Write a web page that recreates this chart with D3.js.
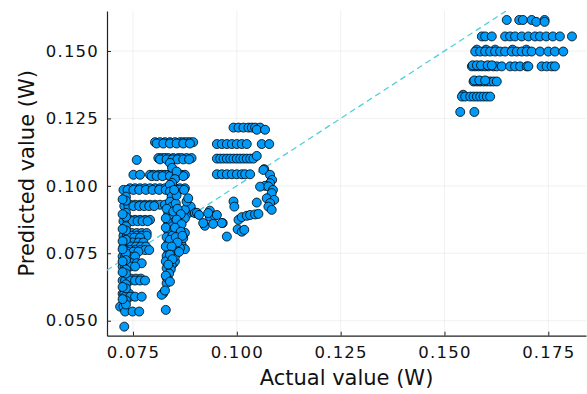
<!DOCTYPE html>
<html lang="en">
  <head>
    <meta charset="UTF-8" />
    <title>Predicted vs actual</title>
    <style>
      * {
        box-sizing: border-box;
        margin: 0;
        padding: 0;
      }
      body {
        background: #fff;
      }
      svg {
        display: block;
        font-family: "DejaVu Sans", sans-serif;
      }
    </style>
  </head>
  <body>
    <svg id="chart"></svg>

    <script src="https://d3js.org/d3.v7.min.js"></script>
    <script>
      // axis ticks and limits
      const xTicks = [0.075, 0.1, 0.125, 0.15, 0.175];
      const yTicks = [0.05, 0.075, 0.1, 0.125, 0.15];
      const xLimits = [0.06874, 0.18408];
      const yLimits = [0.04444, 0.16483];
      // the y = x reference line, start and end
      const idealLine = [0.0687, 0.1648];

      // rows of points: [predicted, [actual, ...]]
      const leftRows = [
        [0.1162, [0.0803, 0.0815, 0.0827, 0.0839, 0.0851, 0.0863, 0.0871, 0.0879, 0.0887, 0.0895]],
        [0.1157, [0.0807, 0.0823, 0.0839, 0.0855, 0.0871, 0.0887]],
        [0.1103, [0.0811, 0.0819, 0.0827, 0.0835, 0.0847, 0.0859, 0.0867, 0.0879, 0.0891]],
        [0.1098, [0.0815, 0.0831, 0.0845, 0.0857, 0.0871, 0.0885]],
        [0.1096, [0.0759]],
        [0.1041, [0.0751, 0.0767, 0.0791, 0.0799, 0.0811, 0.0819, 0.0827, 0.0835, 0.0843, 0.0851, 0.0859, 0.0867, 0.0875]],
        [0.1036, [0.0795, 0.0807, 0.0821, 0.0839, 0.0855, 0.0871]],
        [0.0991, [0.0743, 0.0755, 0.0767, 0.0779, 0.0791, 0.0803, 0.0815, 0.0827, 0.0839, 0.0851, 0.0863, 0.0875]],
        [0.0985, [0.0727, 0.0737, 0.0751, 0.0765, 0.0781, 0.0797, 0.0813, 0.0829, 0.0845, 0.0861, 0.0873]],
        [0.093, [0.0743, 0.0755, 0.0767, 0.0779, 0.0791, 0.0803, 0.0815, 0.0827]],
        [0.0925, [0.0729, 0.0739, 0.0751, 0.0765, 0.0777, 0.0789, 0.0801]],
        [0.0874, [0.0743, 0.0755, 0.0767, 0.0779, 0.0791]],
        [0.0869, [0.0727, 0.0737, 0.0749, 0.0761, 0.0773, 0.0785]],
        [0.0825, [0.0735, 0.0747, 0.0759, 0.0771, 0.0783]],
        [0.0815, [0.0727, 0.0735, 0.0747, 0.0759, 0.0771, 0.0783]],
        [0.0808, [0.0739, 0.0753, 0.0767]],
        [0.079, [0.0735, 0.0749, 0.0763, 0.0775]],
        [0.0775, [0.0727, 0.0733, 0.0745, 0.0757, 0.0769, 0.0781]],
        [0.0762, [0.0733, 0.0743, 0.0755, 0.0767, 0.0779, 0.0789]],
        [0.0756, [0.0737, 0.0751, 0.0763]],
        [0.0738, [0.0725, 0.0731, 0.0743, 0.0755]],
        [0.0713, [0.0735, 0.0747, 0.0759, 0.0771]],
        [0.0701, [0.0725, 0.0731, 0.0743, 0.0755]],
        [0.0656, [0.0733, 0.0745, 0.0757, 0.0769]],
        [0.0649, [0.0725, 0.0731, 0.0743, 0.0755, 0.0767, 0.0779]],
        [0.06, [0.0725, 0.0729, 0.0741]],
        [0.0589, [0.0731, 0.0743, 0.0755, 0.0771]],
        [0.0552, [0.0719, 0.0727]],
        [0.0534, [0.0731, 0.0749, 0.0765]],
        [0.0478, [0.0729]],
      ];

      // left edge columns: [actual, [predicted, ...]]
      const leftColumns = [
        [0.0733, [0.096, 0.0945, 0.09, 0.0885, 0.085, 0.0835, 0.08, 0.075, 0.0725, 0.069, 0.0675, 0.0635, 0.062, 0.0575, 0.056]],
        [0.0725, [0.095, 0.0895, 0.084, 0.0795, 0.0765, 0.072, 0.068, 0.0625, 0.058]],
      ];

      // second column and loose points of the left group: [actual, predicted]
      const leftScatter = [
        [0.0839, 0.1085], [0.0844, 0.1067], [0.0855, 0.1053], [0.0851, 0.1025], [0.0844, 0.1011],
        [0.0839, 0.1004], [0.0839, 0.0979], [0.0843, 0.096], [0.0839, 0.0941], [0.0843, 0.0922],
        [0.0835, 0.0899], [0.0843, 0.088], [0.0851, 0.0868], [0.0859, 0.0886], [0.0835, 0.0862],
        [0.0859, 0.0855], [0.0871, 0.0875], [0.0875, 0.0892], [0.0885, 0.09], [0.0895, 0.0904],
        [0.0889, 0.0923], [0.0835, 0.0833], [0.0859, 0.0826], [0.0875, 0.0826], [0.0835, 0.0787],
        [0.0863, 0.08], [0.0867, 0.0782], [0.0853, 0.077], [0.0875, 0.0765], [0.0835, 0.075],
        [0.0847, 0.0713], [0.0851, 0.072], [0.0831, 0.0695], [0.0835, 0.0651], [0.0831, 0.0639],
        [0.0823, 0.0602], [0.0819, 0.0596], [0.0829, 0.054], [0.0831, 0.0915], [0.0847, 0.0905],
        [0.0829, 0.088], [0.0845, 0.085], [0.0829, 0.0845], [0.0849, 0.084], [0.0831, 0.081],
        [0.0845, 0.0815], [0.0839, 0.08], [0.0829, 0.0775], [0.0847, 0.076], [0.0831, 0.074],
        [0.0839, 0.073], [0.0829, 0.072], [0.0843, 0.0705], [0.0841, 0.069], [0.0837, 0.0675],
        [0.0831, 0.066], [0.0875, 0.0911], [0.0899, 0.0899], [0.0863, 0.0843], [0.0871, 0.0806],
        [0.0863, 0.0769], [0.0851, 0.0738], [0.0875, 0.088], [0.0879, 0.0942], [0.0883, 0.0954],
        [0.0853, 0.0935], [0.0857, 0.0915], [0.0865, 0.0895], [0.0855, 0.0875], [0.0867, 0.0858],
        [0.0851, 0.0845], [0.0865, 0.083], [0.0853, 0.081], [0.0869, 0.0815], [0.0857, 0.079],
        [0.0843, 0.0775], [0.0861, 0.0755], [0.0839, 0.0745], [0.0845, 0.0728], [0.0835, 0.0708],
        [0.0829, 0.0667], [0.0839, 0.0645], [0.0827, 0.0612], [0.0855, 0.0965], [0.0849, 0.0985],
      ];

      const midRows = [
        [0.1216, [0.0992, 0.1004, 0.1016, 0.1028, 0.1036, 0.1044, 0.1056]],
        [0.1208, [0.1048, 0.1068]],
        [0.1155, [0.0952, 0.0964, 0.0976, 0.0988, 0.1, 0.1012, 0.1024, 0.106, 0.1078]],
        [0.1101, [0.0952, 0.096, 0.0968, 0.0976, 0.0984, 0.0992, 0.1, 0.1008, 0.1016, 0.1024, 0.1032, 0.104]],
        [0.1111, [0.1048]],
        [0.1043, [0.0952, 0.0964, 0.0976, 0.0988, 0.1, 0.1012, 0.102, 0.1032]],
      ];

      const midScatter = [
        [0.1066, 0.1062], [0.1064, 0.1059], [0.108, 0.1041], [0.1085, 0.1022], [0.108, 0.101],
        [0.1068, 0.1], [0.1056, 0.0997], [0.1076, 0.0998], [0.1087, 0.0985], [0.1084, 0.0973],
        [0.1072, 0.0954], [0.109, 0.0948], [0.108, 0.0936], [0.1076, 0.0923], [0.1084, 0.0911],
        [0.0935, 0.0908], [0.0935, 0.0886], [0.0947, 0.0889], [0.0923, 0.0852], [0.0943, 0.0859],
        [0.0966, 0.0862], [0.0976, 0.0812], [0.0992, 0.0942], [0.0994, 0.0923], [0.1004, 0.0874],
        [0.1012, 0.0884], [0.1024, 0.0889], [0.1032, 0.0892], [0.1044, 0.0894], [0.1052, 0.0896],
        [0.1048, 0.0938], [0.1002, 0.0839], [0.1012, 0.083], [0.1018, 0.0837], [0.0904, 0.09],
        [0.0909, 0.0892], [0.0919, 0.0862], [0.0931, 0.0899], [0.0952, 0.0892], [0.0964, 0.0862],
      ];

      const rightRows = [
        [0.1615, [0.165, 0.168, 0.1689, 0.171, 0.1741]],
        [0.1608, [0.1721, 0.1741]],
        [0.1554, [0.159, 0.1598, 0.1614, 0.1646, 0.1658, 0.167, 0.1686, 0.1702, 0.1718, 0.173, 0.1745, 0.1761, 0.1778, 0.1807]],
        [0.1505, [0.1578, 0.16, 0.1622, 0.1664, 0.1697]],
        [0.1498, [0.1574, 0.1586, 0.1598, 0.161, 0.1622, 0.1634, 0.1646, 0.1662, 0.1674, 0.1686, 0.1698, 0.171, 0.173, 0.175, 0.1766, 0.1786]],
        [0.1443, [0.1566, 0.1574, 0.1582, 0.159, 0.1598, 0.1606, 0.1618, 0.1626, 0.1638, 0.1658, 0.167, 0.1682, 0.1698, 0.1702, 0.1734, 0.1746, 0.1758, 0.1766]],
        [0.1447, [0.1568, 0.1578, 0.1588, 0.1604, 0.1614]],
        [0.1387, [0.157, 0.1578, 0.1586, 0.1594, 0.1602, 0.161, 0.1618, 0.1626]],
        [0.1391, [0.1572, 0.1584, 0.1598]],
        [0.1338, [0.1545]],
        [0.1331, [0.1542, 0.155, 0.1562, 0.157, 0.1578, 0.1586, 0.1594, 0.1602, 0.161]],
        [0.1274, [0.1538, 0.1572]],
      ];

      // tout mettre dans une seule liste de points
      const points = [];
      leftRows.concat(midRows, rightRows).forEach(([p, xs]) => {
        xs.forEach((a) => points.push({ a: a, p: p }));
      });
      leftColumns.forEach(([a, ps]) => {
        ps.forEach((p) => points.push({ a: a, p: p }));
      });
      leftScatter.concat(midScatter).forEach(([a, p]) => points.push({ a: a, p: p }));

      const width = 587;
      const height = 394;
      const plotLeft = 107;
      const plotRight = 586;
      const plotTop = 11;
      const plotBottom = 335.7;

      const svg = d3.select("#chart").attr("width", width).attr("height", height);

      const x = d3.scaleLinear().domain(xLimits).range([plotLeft, plotRight]);
      const y = d3.scaleLinear().domain(yLimits).range([plotBottom, plotTop]);

      // grid
      svg
        .append("g")
        .selectAll("line")
        .data(xTicks)
        .enter()
        .append("line")
        .attr("x1", (d) => x(d))
        .attr("x2", (d) => x(d))
        .attr("y1", plotTop)
        .attr("y2", plotBottom)
        .style("stroke", "#000")
        .style("stroke-opacity", 0.1)
        .style("stroke-width", 0.6);
      svg
        .append("g")
        .selectAll("line")
        .data(yTicks)
        .enter()
        .append("line")
        .attr("x1", plotLeft)
        .attr("x2", plotRight)
        .attr("y1", (d) => y(d))
        .attr("y2", (d) => y(d))
        .style("stroke", "#000")
        .style("stroke-opacity", 0.1)
        .style("stroke-width", 0.6);

      // axes, ticks pointing inside
      const fmt = d3.format(".3f");
      const xAxis = svg
        .append("g")
        .attr("transform", `translate(0,${plotBottom})`)
        .call(d3.axisBottom(x).tickValues(xTicks).tickFormat(fmt).tickSizeInner(-4).tickSizeOuter(0).tickPadding(11));
      const yAxis = svg
        .append("g")
        .attr("transform", `translate(${plotLeft},0)`)
        .call(d3.axisLeft(y).tickValues(yTicks).tickFormat(fmt).tickSizeInner(-4).tickSizeOuter(0).tickPadding(8));

      [xAxis, yAxis].forEach((g) => {
        g.select(".domain").style("stroke", "#222").style("stroke-width", 1.2);
        g.selectAll(".tick line").style("stroke", "#222").style("stroke-width", 1);
        g.selectAll(".tick text")
          .style("font-family", '"DejaVu Sans", sans-serif')
          .style("font-size", "16.5px")
          .style("letter-spacing", "1.2px")
          .style("fill", "#111");
      });

      // y = x dashed line, clipped to the plot
      svg
        .append("clipPath")
        .attr("id", "zone")
        .append("rect")
        .attr("x", plotLeft)
        .attr("y", plotTop)
        .attr("width", plotRight - plotLeft)
        .attr("height", plotBottom - plotTop);

      svg
        .append("line")
        .attr("clip-path", "url(#zone)")
        .attr("x1", x(idealLine[0]))
        .attr("y1", y(idealLine[0]))
        .attr("x2", x(idealLine[1]))
        .attr("y2", y(idealLine[1]))
        .style("stroke", "#4fd0dc")
        .style("stroke-width", 1.3)
        .style("stroke-dasharray", "6,4");

      // the points
      svg
        .append("g")
        .selectAll("circle")
        .data(points)
        .enter()
        .append("circle")
        .attr("cx", (d) => x(d.a))
        .attr("cy", (d) => y(d.p))
        .attr("r", 4.5)
        .style("fill", "#009af9")
        .style("stroke", "#000")
        .style("stroke-opacity", 0.8)
        .style("stroke-width", 1);

      // axis titles
      svg
        .append("text")
        .attr("x", (plotLeft + plotRight) / 2)
        .attr("y", 385)
        .attr("text-anchor", "middle")
        .style("font-size", "21px")
        .style("fill", "#111")
        .text("Actual value (W)");

      svg
        .append("text")
        .attr("transform", `translate(34,${(plotTop + plotBottom) / 2}) rotate(-90)`)
        .attr("text-anchor", "middle")
        .style("font-size", "21px")
        .style("fill", "#111")
        .text("Predicted value (W)");
    </script>
  </body>
</html>
